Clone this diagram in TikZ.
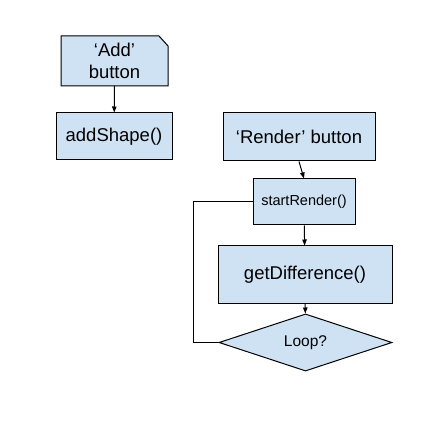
\documentclass[tikz,border=0pt]{standalone}
\usepackage{fontspec}
\setmainfont{Liberation Sans}
\usetikzlibrary{shapes.geometric,arrows.meta}
\definecolor{boxblue}{HTML}{CFE2F3}
\begin{document}
\begin{tikzpicture}[x=1pt,y=1pt,
        box/.style={draw=black,fill=boxblue,line width=1pt,inner sep=0pt,align=center,font=\fontsize{18.5}{21.5}\selectfont},
        decision/.style={box,diamond,font=\fontsize{15.5}{18}\selectfont},
        link/.style={line width=1pt,draw=black,-{Triangle[length=6pt,width=4.5pt]}}]
            \fill[white] (0,0) rectangle (425,423);
            \draw[white,line width=1pt] (1,1) rectangle (424,422);
            \useasboundingbox (0,0) rectangle (425,423);
            % left column
            \coordinate (add) at (114.5,362);
            \filldraw[draw=black,fill=boxblue,line width=1pt] (61,337)--(61,387)--(159,387)--(168,377)--(168,337)--cycle;
            \node[align=center,font=\fontsize{18.5}{21.5}\selectfont] (addtext) at (add) {`Add'\\button};
            \node[box,minimum width=116pt,minimum height=47pt] (shape) at (114,286.5) {addShape()};
            % right column
            \node[box,minimum width=152pt,minimum height=48pt] (render) at (299,286) {`Render' button};
            \node[box,minimum width=102pt,minimum height=46pt,font=\fontsize{14.5}{17}\selectfont] (start) at (304,221) {startRender()};
            \node[box,minimum width=174pt,minimum height=57pt] (diff) at (305,148.5) {getDifference()};
            \node[decision,minimum width=173pt,minimum height=57pt] (loop) at (305.5,80.5) {Loop?};
            \coordinate (addbottom) at (114.5,337);
            \draw[link] (addbottom)--(shape);
            \draw[link] (render.south)--(start.north);
            \draw[link] (start)--(diff);
            \draw[link] (diff)--(loop);
            \draw[line width=1pt,draw=black] (loop.west)-|(193,221)--(start.west);
        \end{tikzpicture}
\end{document}
